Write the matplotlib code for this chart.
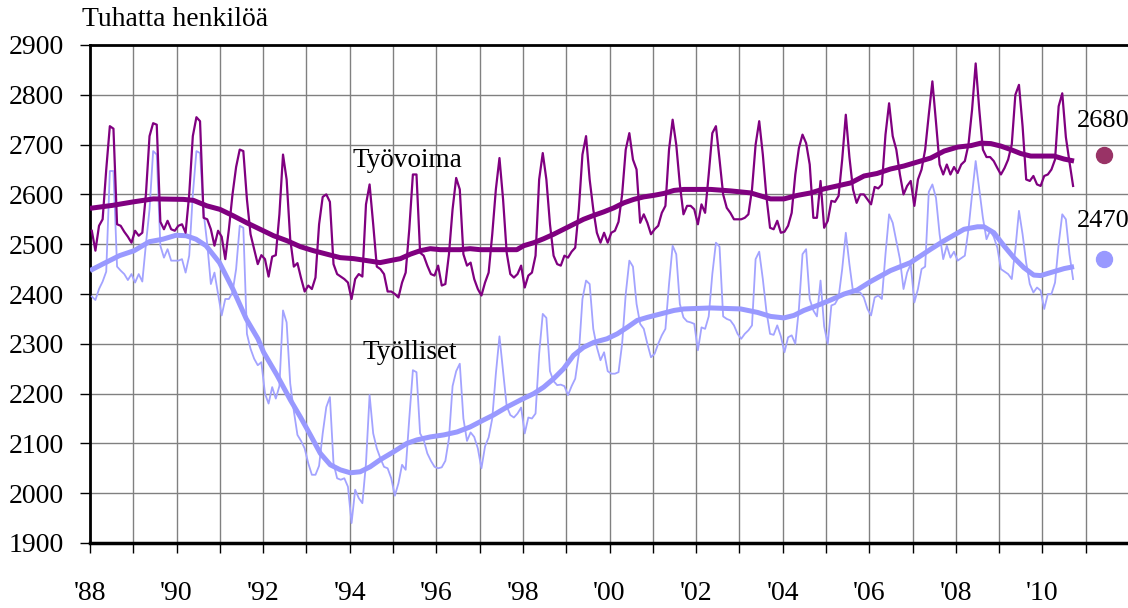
import numpy as np
import matplotlib.pyplot as plt

plt.rcParams["font.family"] = ["Liberation Serif", "DejaVu Serif"]

# Monthly labour force (Työvoima), thousands, Jan 1988 - Sep 2010
tyovoima = [
    2527, 2487, 2537, 2550, 2650, 2737, 2732, 2540, 2537, 2525, 2515, 2503,  # 1988
    2527, 2517, 2523, 2600, 2717, 2743, 2740, 2545, 2530, 2547, 2530, 2527,  # 1989
    2537, 2540, 2523, 2600, 2717, 2755, 2747, 2553, 2550, 2530, 2497, 2527,  # 1990
    2515, 2470, 2530, 2600, 2655, 2690, 2687, 2590, 2520, 2490, 2460, 2478,  # 1991
    2470, 2435, 2475, 2478, 2560, 2680, 2630, 2510, 2455, 2462, 2432, 2405,  # 1992
    2417, 2410, 2433, 2540, 2595, 2600, 2585, 2460, 2440, 2435, 2430, 2423,  # 1993
    2390, 2430, 2440, 2435, 2580, 2620, 2540, 2455, 2450, 2440, 2405, 2405,  # 1994
    2400, 2393, 2423, 2443, 2530, 2640, 2640, 2483, 2477, 2457, 2440, 2437,  # 1995
    2457, 2417, 2420, 2480, 2570, 2633, 2610, 2480, 2457, 2463, 2430, 2410,  # 1996
    2397, 2423, 2443, 2520, 2610, 2673, 2590, 2483, 2440, 2433, 2440, 2457,  # 1997
    2413, 2437, 2443, 2477, 2630, 2683, 2630, 2540, 2477, 2460, 2457, 2477,  # 1998
    2473, 2485, 2493, 2570, 2680, 2717, 2630, 2570, 2523, 2503, 2523, 2503,  # 1999
    2523, 2527, 2545, 2600, 2690, 2723, 2670, 2650, 2543, 2560, 2543, 2520,  # 2000
    2530, 2537, 2563, 2577, 2690, 2750, 2700, 2620, 2560, 2577, 2577, 2570,  # 2001
    2540, 2580, 2563, 2640, 2723, 2737, 2670, 2600, 2573, 2563, 2550, 2550,  # 2002
    2550, 2553, 2560, 2610, 2700, 2747, 2680, 2595, 2533, 2530, 2547, 2523,  # 2003
    2525, 2537, 2563, 2640, 2693, 2720, 2703, 2660, 2553, 2553, 2627, 2533,  # 2004
    2547, 2587, 2585, 2597, 2670, 2760, 2675, 2610, 2583, 2600, 2600, 2590,  # 2005
    2580, 2615, 2612, 2620, 2720, 2783, 2717, 2690, 2640, 2600, 2617, 2627,  # 2006
    2577, 2630, 2650, 2690, 2760, 2827, 2745, 2660, 2640, 2660, 2640, 2655,  # 2007
    2643, 2660, 2667, 2700, 2770, 2863, 2770, 2690, 2675, 2675, 2667, 2653,  # 2008
    2640, 2653, 2670, 2700, 2800, 2820, 2737, 2630, 2627, 2637, 2620, 2617,  # 2009
    2637, 2640, 2650, 2670, 2777, 2803, 2715, 2665, 2617,                    # 2010
]

# Monthly employed (Työlliset), thousands
tyolliset = [
    2395, 2388, 2410, 2425, 2445, 2647, 2647, 2455, 2447, 2440, 2428, 2440,  # 1988
    2423, 2440, 2425, 2500, 2570, 2687, 2680, 2497, 2473, 2490, 2467, 2467,  # 1989
    2467, 2470, 2443, 2477, 2600, 2687, 2683, 2563, 2500, 2420, 2443, 2400,  # 1990
    2357, 2390, 2390, 2403, 2450, 2537, 2533, 2320, 2290, 2270, 2257, 2263,  # 1991
    2200, 2180, 2213, 2190, 2215, 2367, 2343, 2220, 2165, 2117, 2105, 2090,  # 1992
    2060, 2037, 2037, 2055, 2120, 2173, 2193, 2060, 2030, 2027, 2030, 2013,  # 1993
    1940, 2007, 1990, 1980, 2060, 2197, 2120, 2090, 2070, 2053, 2050, 2030,  # 1994
    1995, 2020, 2057, 2047, 2150, 2247, 2243, 2120, 2107, 2080, 2065, 2053,  # 1995
    2050, 2052, 2065, 2110, 2215, 2245, 2260, 2150, 2105, 2122, 2113, 2090,  # 1996
    2050, 2094, 2112, 2150, 2240, 2315, 2245, 2175, 2157, 2152, 2160, 2172,  # 1997
    2120, 2152, 2150, 2160, 2280, 2360, 2352, 2245, 2225, 2217, 2218, 2215,  # 1998
    2197, 2215, 2230, 2280, 2390, 2427, 2420, 2330, 2293, 2267, 2283, 2245,  # 1999
    2240, 2240, 2243, 2300, 2400, 2467, 2455, 2380, 2340, 2330, 2300, 2273,  # 2000
    2280, 2300, 2317, 2330, 2420, 2497, 2480, 2380, 2353, 2345, 2343, 2340,  # 2001
    2287, 2333, 2330, 2355, 2440, 2503, 2495, 2355, 2350, 2347, 2337, 2320,  # 2002
    2310, 2320, 2327, 2337, 2470, 2485, 2430, 2365, 2320, 2318, 2337, 2315,  # 2003
    2283, 2313, 2317, 2300, 2370, 2480, 2490, 2390, 2367, 2355, 2427, 2335,  # 2004
    2300, 2377, 2380, 2393, 2450, 2523, 2460, 2405, 2403, 2403, 2393, 2370,  # 2005
    2357, 2393, 2397, 2390, 2480, 2560, 2543, 2507, 2470, 2410, 2443, 2460,  # 2006
    2383, 2410, 2450, 2455, 2605, 2620, 2593, 2520, 2470, 2497, 2473, 2485,  # 2007
    2467, 2472, 2477, 2530, 2600, 2667, 2610, 2553, 2510, 2527, 2515, 2493,  # 2008
    2450, 2445, 2440, 2430, 2490, 2567, 2520, 2463, 2420, 2403, 2413, 2407,  # 2009
    2370, 2400, 2400, 2423, 2500, 2560, 2550, 2480, 2430,                    # 2010
]

# Trend series, read at (decimal year, value)
tv_trend_year = [1988.0, 1988.52, 1989.0, 1989.46, 1990.16, 1990.39, 1990.70, 1991.0,
                 1991.31, 1991.62, 1991.93, 1992.24, 1992.55, 1992.86, 1993.16, 1993.47,
                 1993.78, 1994.09, 1994.40, 1994.70, 1994.93, 1995.17, 1995.40, 1995.63,
                 1995.86, 1996.09, 1996.55, 1996.78, 1997.01, 1997.63, 1997.86, 1998.02,
                 1998.25, 1998.48, 1998.71, 1998.94, 1999.17, 1999.40, 1999.64, 1999.87,
                 2000.10, 2000.33, 2000.56, 2000.79, 2001.02, 2001.26, 2001.49, 2001.72,
                 2002.34, 2002.80, 2003.26, 2003.49, 2003.72, 2004.03, 2004.34, 2004.65,
                 2004.95, 2005.26, 2005.57, 2005.88, 2006.18, 2006.49, 2006.80, 2007.11,
                 2007.42, 2007.73, 2008.04, 2008.35, 2008.58, 2008.81, 2009.04, 2009.27,
                 2009.50, 2009.73, 2010.27, 2010.50, 2010.73]
tv_trend_val = [2572, 2578, 2585, 2591, 2590, 2588, 2577, 2570,
                2557, 2543, 2530, 2517, 2507, 2495, 2487, 2480,
                2473, 2471, 2467, 2463, 2467, 2471, 2480, 2487,
                2491, 2489, 2489, 2491, 2489, 2489, 2489, 2497,
                2503, 2511, 2520, 2530, 2540, 2550, 2558, 2565,
                2573, 2583, 2590, 2595, 2598, 2602, 2608, 2610,
                2610, 2607, 2603, 2597, 2591, 2591, 2598, 2603,
                2611, 2617, 2623, 2637, 2642, 2651, 2657, 2665,
                2673, 2687, 2695, 2698, 2703, 2702, 2697, 2690,
                2682, 2677, 2677, 2671, 2667]

tl_trend_year = [1988.0, 1988.29, 1988.68, 1989.02, 1989.37, 1989.68, 1989.99, 1990.22,
                 1990.45, 1990.68, 1990.99, 1991.30, 1991.61, 1991.88, 1992.01, 1992.32,
                 1992.63, 1992.86, 1993.09, 1993.32, 1993.55, 1993.78, 1994.01, 1994.24,
                 1994.47, 1994.70, 1995.01, 1995.32, 1995.55, 1995.86, 1996.17, 1996.48,
                 1996.78, 1997.09, 1997.32, 1997.63, 1997.94, 1998.25, 1998.48, 1998.71,
                 1998.94, 1999.17, 1999.40, 1999.64, 1999.94, 2000.18, 2000.41, 2000.64,
                 2000.87, 2001.18, 2001.49, 2001.72, 2002.34, 2003.03, 2003.42, 2003.72,
                 2004.03, 2004.26, 2004.49, 2004.80, 2005.11, 2005.42, 2005.72, 2006.03,
                 2006.49, 2006.95, 2007.42, 2007.73, 2008.19, 2008.50, 2008.65, 2008.88,
                 2009.11, 2009.34, 2009.57, 2009.80, 2009.96, 2010.19, 2010.50, 2010.73]
tl_trend_val = [2447, 2460, 2477, 2487, 2505, 2510, 2518, 2517,
                2510, 2497, 2463, 2410, 2350, 2310, 2283, 2237,
                2187, 2153, 2117, 2080, 2057, 2047, 2041, 2043,
                2053, 2067, 2083, 2100, 2107, 2113, 2117, 2123,
                2133, 2147, 2157, 2173, 2187, 2200, 2213, 2230,
                2250, 2277, 2293, 2303, 2310, 2320, 2333, 2347,
                2353, 2360, 2367, 2370, 2372, 2370, 2363, 2355,
                2352, 2357, 2367, 2377, 2388, 2400, 2408, 2425,
                2447, 2463, 2490, 2507, 2530, 2535, 2535, 2523,
                2497, 2473, 2453, 2438, 2437, 2443, 2451, 2455]

# 2011 forecasts
forecast_year = 2011.43
forecast_tv = 2680
forecast_tl = 2470

x_labels = ["'88", "", "'90", "", "'92", "", "'94", "", "'96", "", "'98", "",
            "'00", "", "'02", "", "'04", "", "'06", "", "'08", "", "'10", ""]

TV_COL = "#800080"
TL_COL = "#9999FF"

months = 1988 + (np.arange(len(tyovoima)) + 0.5) / 12

fig = plt.figure(figsize=(11.28, 6.08), dpi=100)
ax = fig.add_axes([90 / 1128, 65 / 608, 1039 / 1128, 498 / 608])

ax.plot(months, tyolliset, color="#A3A3FF", lw=1.3, zorder=3)
ax.plot(tl_trend_year, tl_trend_val, color=TL_COL, lw=3.6, zorder=4,
        solid_capstyle="butt")
ax.plot(months, tyovoima, color=TV_COL, lw=1.6, zorder=5)
ax.plot(tv_trend_year, tv_trend_val, color=TV_COL, lw=3.6, zorder=6,
        solid_capstyle="butt")

ax.plot([forecast_year], [forecast_tv], "o", color="#993366", ms=11.5, zorder=7)
ax.plot([forecast_year], [forecast_tl], "o", color=TL_COL, ms=11.5, zorder=7)
ax.text(2010.80, 2736, "2680", fontsize=19, ha="left", va="baseline")
ax.text(2010.80, 2535, "2470", fontsize=19, ha="left", va="baseline")

ax.text(1994.06, 2655, "Työvoima", fontsize=19.5, ha="left", va="baseline")
ax.text(1994.29, 2269, "Työlliset", fontsize=19.5, ha="left", va="baseline")

ax.set_xlim(1988, 2012)
ax.set_ylim(1900, 2900)
ax.set_xticks(np.arange(1988, 2012))
ax.set_xticklabels(x_labels)
ax.set_yticks(np.arange(1900, 2901, 100))

ax.grid(True, color="#808080", lw=1)
ax.set_axisbelow(True)
ax.tick_params(axis="both", direction="out", length=7, width=1, color="black",
               labelsize=20)
ax.tick_params(axis="x", pad=20)
ax.tick_params(axis="y", pad=12)

for side in ["left", "bottom", "top"]:
    ax.spines[side].set_color("black")
ax.spines["left"].set_linewidth(2)
ax.spines["bottom"].set_linewidth(2.5)
ax.spines["top"].set_linewidth(2)
ax.spines["right"].set_visible(False)

fig.text(82 / 1128, 1 - 20 / 608, "Tuhatta henkilöä", fontsize=20,
         ha="left", va="center")

fig.savefig("out.png", dpi=100)
